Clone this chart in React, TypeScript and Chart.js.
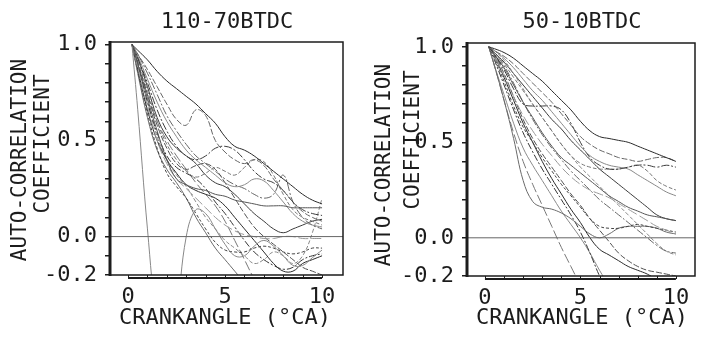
import React, { useEffect, useRef } from "react";
import { Chart, registerables } from "chart.js";

Chart.register(...registerables);

// ---------- data ----------
const LAGS = [0.2, 0.5, 1, 1.5, 2, 2.5, 3, 3.5, 4, 4.5, 5, 5.5, 6, 6.5, 7, 7.5, 8, 8.5, 9, 9.5, 10];

const Y_TICKS = [-0.2, -0.1, 0, 0.1, 0.2, 0.3, 0.4, 0.5, 0.6, 0.7, 0.8, 0.9, 1.0];
const Y_LABELED = [-0.2, 0, 0.5, 1.0];
const Y_LABEL_TEXT = ["-0.2", "0.0", "0.5", "1.0"];
const X_TICKS = [0, 5, 10];
const X_MINOR = [0, 1, 2, 3, 4, 5, 6, 7, 8, 9, 10];

const LEFT_TITLE = "110-70BTDC";
const RIGHT_TITLE = "50-10BTDC";
const X_TITLE = "CRANKANGLE (°CA)";
const Y_TITLE_1 = "AUTO-CORRELATION";
const Y_TITLE_2 = "COEFFICIENT";

// left panel (110-70 BTDC)
const L01 = [1.00, 0.97, 0.92, 0.86, 0.81, 0.77, 0.73, 0.69, 0.64, 0.59, 0.52, 0.47, 0.45, 0.42, 0.38, 0.34, 0.30, 0.26, 0.22, 0.19, 0.17];
const L02 = [1.00, 0.95, 0.87, 0.78, 0.69, 0.61, 0.58, 0.66, 0.63, 0.50, 0.44, 0.40, 0.38, 0.40, 0.37, 0.30, 0.24, 0.18, 0.13, 0.10, 0.08];
const L03 = [1.00, 0.66, 0.04, -0.45, -0.65, -0.40, 0.00, 0.14, 0.12, 0.04, -0.04, -0.10, -0.10, -0.05, -0.02, -0.05, -0.10, -0.15, -0.15, -0.11, -0.07];
const L04 = [1.00, 0.93, 0.80, 0.66, 0.55, 0.47, 0.42, 0.40, 0.42, 0.46, 0.47, 0.45, 0.40, 0.34, 0.30, 0.28, 0.24, 0.18, 0.14, 0.12, 0.11];
const L05 = [1.00, 0.92, 0.76, 0.60, 0.48, 0.40, 0.34, 0.31, 0.33, 0.36, 0.34, 0.32, 0.36, 0.40, 0.39, 0.32, 0.22, 0.14, 0.10, 0.08, 0.06];
const L06 = [1.00, 0.90, 0.72, 0.55, 0.40, 0.30, 0.27, 0.25, 0.24, 0.22, 0.21, 0.19, 0.18, 0.17, 0.16, 0.16, 0.16, 0.15, 0.15, 0.15, 0.15];
const L07 = [1.00, 0.88, 0.68, 0.50, 0.38, 0.30, 0.25, 0.20, 0.15, 0.10, 0.06, 0.03, 0.01, 0.00, -0.01, -0.01, 0.00, 0.00, -0.01, -0.01, -0.01];
const L08 = [1.00, 0.86, 0.64, 0.46, 0.33, 0.26, 0.20, 0.12, 0.04, -0.03, -0.07, -0.08, -0.08, -0.06, -0.05, -0.06, -0.08, -0.09, -0.08, -0.06, -0.06];
const L09 = [1.00, 0.85, 0.62, 0.45, 0.35, 0.28, 0.20, 0.10, 0.02, -0.06, -0.12, -0.18, -0.24, -0.30, -0.35, -0.38, -0.40, -0.40, -0.40, -0.40, -0.40];
const L10 = [1.00, 0.90, 0.70, 0.54, 0.42, 0.36, 0.33, 0.30, 0.25, 0.18, 0.12, 0.05, -0.02, -0.08, -0.12, -0.15, -0.17, -0.16, -0.12, -0.10, -0.09];
const L11 = [1.00, 0.94, 0.82, 0.70, 0.60, 0.52, 0.45, 0.40, 0.36, 0.32, 0.28, 0.26, 0.27, 0.30, 0.29, 0.24, 0.18, 0.12, 0.08, 0.06, 0.05];
const L12 = [1.00, 0.91, 0.74, 0.58, 0.46, 0.38, 0.35, 0.37, 0.38, 0.35, 0.28, 0.20, 0.12, 0.05, 0.00, -0.04, -0.08, -0.12, -0.16, -0.18, -0.20];
const L13 = [1.00, 0.87, 0.66, 0.50, 0.40, 0.33, 0.27, 0.24, 0.22, 0.20, 0.16, 0.10, 0.04, -0.02, -0.08, -0.14, -0.18, -0.18, -0.14, -0.12, -0.10];
const L14 = [1.00, 0.95, 0.85, 0.74, 0.63, 0.55, 0.48, 0.42, 0.38, 0.34, 0.30, 0.27, 0.25, 0.22, 0.20, 0.22, 0.32, 0.18, 0.10, 0.06, 0.04];
const L15 = [1.00, 0.89, 0.70, 0.52, 0.40, 0.32, 0.26, 0.18, 0.10, 0.04, -0.02, -0.06, -0.10, -0.14, -0.12, -0.08, -0.10, -0.14, -0.10, 0.02, 0.20];
const L16 = [1.00, 0.93, 0.78, 0.62, 0.52, 0.46, 0.42, 0.38, 0.32, 0.28, 0.26, 0.22, 0.17, 0.12, 0.08, 0.04, 0.02, 0.04, 0.06, 0.08, 0.09];
const L17 = [1.00, 0.90, 0.74, 0.60, 0.50, 0.42, 0.35, 0.28, 0.22, 0.16, 0.08, -0.02, -0.12, -0.22, -0.30, -0.36, -0.40, -0.40, -0.40, -0.40, -0.40];

// right panel (50-10 BTDC)
const R01 = [1.00, 0.99, 0.97, 0.94, 0.90, 0.86, 0.82, 0.77, 0.72, 0.67, 0.61, 0.56, 0.53, 0.52, 0.51, 0.50, 0.48, 0.46, 0.44, 0.42, 0.40];
const R02 = [1.00, 0.98, 0.95, 0.91, 0.86, 0.81, 0.76, 0.71, 0.65, 0.59, 0.53, 0.49, 0.46, 0.44, 0.42, 0.41, 0.40, 0.41, 0.42, 0.42, 0.40];
const R03 = [1.00, 0.98, 0.94, 0.89, 0.83, 0.77, 0.72, 0.66, 0.60, 0.54, 0.48, 0.43, 0.40, 0.38, 0.37, 0.36, 0.33, 0.30, 0.27, 0.24, 0.22];
const R04 = [1.00, 0.96, 0.88, 0.78, 0.70, 0.69, 0.69, 0.69, 0.67, 0.60, 0.50, 0.42, 0.38, 0.36, 0.36, 0.37, 0.38, 0.38, 0.37, 0.38, 0.37];
const R05 = [1.00, 0.97, 0.91, 0.84, 0.77, 0.70, 0.63, 0.56, 0.49, 0.43, 0.39, 0.37, 0.36, 0.36, 0.36, 0.37, 0.38, 0.35, 0.30, 0.27, 0.25];
const R06 = [1.00, 0.96, 0.89, 0.80, 0.71, 0.63, 0.55, 0.48, 0.42, 0.38, 0.34, 0.30, 0.26, 0.22, 0.19, 0.16, 0.14, 0.12, 0.11, 0.10, 0.09];
const R07 = [1.00, 0.95, 0.85, 0.74, 0.64, 0.56, 0.49, 0.43, 0.37, 0.32, 0.28, 0.25, 0.23, 0.21, 0.18, 0.15, 0.12, 0.09, 0.06, 0.04, 0.02];
const R08 = [1.00, 0.94, 0.82, 0.69, 0.58, 0.50, 0.42, 0.35, 0.28, 0.22, 0.16, 0.10, 0.06, 0.05, 0.05, 0.06, 0.07, 0.06, 0.05, 0.04, 0.03];
const R09 = [1.00, 0.90, 0.72, 0.52, 0.30, 0.19, 0.16, 0.15, 0.13, 0.10, 0.06, 0.02, 0.00, 0.02, 0.05, 0.06, 0.06, 0.06, 0.05, 0.03, 0.02];
const R10 = [1.00, 0.93, 0.80, 0.67, 0.55, 0.45, 0.36, 0.28, 0.20, 0.12, 0.03, -0.08, -0.20, -0.30, -0.40, -0.45, -0.45, -0.45, -0.45, -0.45, -0.45];
const R11 = [1.00, 0.90, 0.75, 0.60, 0.47, 0.38, 0.30, 0.22, 0.14, 0.07, 0.00, -0.08, -0.17, -0.25, -0.32, -0.38, -0.40, -0.40, -0.40, -0.40, -0.40];
const R12 = [1.00, 0.96, 0.86, 0.74, 0.62, 0.52, 0.44, 0.37, 0.30, 0.23, 0.17, 0.10, 0.04, -0.02, -0.08, -0.12, -0.15, -0.17, -0.18, -0.19, -0.20];
const R13 = [1.00, 0.95, 0.84, 0.72, 0.60, 0.50, 0.40, 0.31, 0.23, 0.15, 0.08, 0.00, -0.06, -0.09, -0.12, -0.15, -0.17, -0.19, -0.22, -0.25, -0.28];
const R14 = [1.00, 0.97, 0.90, 0.81, 0.71, 0.62, 0.54, 0.47, 0.41, 0.35, 0.30, 0.25, 0.20, 0.16, 0.12, 0.08, 0.04, 0.00, -0.04, -0.07, -0.08];
const R15 = [1.00, 0.98, 0.93, 0.86, 0.78, 0.70, 0.63, 0.56, 0.49, 0.43, 0.37, 0.32, 0.27, 0.22, 0.17, 0.12, 0.07, 0.02, -0.03, -0.07, -0.09];
const R16 = [1.00, 0.97, 0.92, 0.86, 0.80, 0.74, 0.68, 0.62, 0.57, 0.51, 0.46, 0.41, 0.36, 0.32, 0.28, 0.24, 0.20, 0.16, 0.12, 0.10, 0.09];
const R17 = [1.00, 0.90, 0.72, 0.55, 0.40, 0.28, 0.17, 0.06, -0.05, -0.15, -0.25, -0.35, -0.40, -0.40, -0.40, -0.40, -0.40, -0.40, -0.40, -0.40, -0.40];

const LEFT_CURVES = [L01, L02, L03, L04, L05, L06, L07, L08, L09, L10, L11, L12, L13, L14, L15, L16, L17];
const RIGHT_CURVES = [R01, R02, R03, R04, R05, R06, R07, R08, R09, R10, R11, R12, R13, R14, R15, R16, R17];

// ---------- styles ----------
const FONT = "'DejaVu Sans Mono', monospace";
const INK = "#1c1c1c";
const LINE_COLORS = ["#2a2a2a", "#666", "#888", "#3a3a3a", "#777", "#555", "#999", "#444", "#6a6a6a", "#333", "#8a8a8a", "#505050"];
const LINE_DASHES: number[][] = [[], [6, 2], [], [8, 2, 2, 2], [4, 2], [], [10, 3], [3, 2], [], [7, 2, 2, 2]];

type Panel = {
  canvasX: number; width: number; height: number;
  area: { left: number; right: number; top: number; bottom: number };
  xMin: number; xMax: number; yMin: number; yMax: number;
  title: string; titlePos: [number, number];
  yTitle1Pos: [number, number]; yTitle2Pos: [number, number];
  xTitlePos: [number, number];
  curves: number[][];
};

const PANELS: Panel[] = [
  {
    canvasX: 0, width: 352, height: 340,
    area: { left: 110, right: 343, top: 42, bottom: 275 },
    xMin: -0.93, xMax: 11.08, yMin: -0.2, yMax: 1.013,
    title: LEFT_TITLE, titlePos: [227, 22],
    yTitle1Pos: [21, 160], yTitle2Pos: [44, 144],
    xTitlePos: [225, 318],
    curves: LEFT_CURVES,
  },
  {
    canvasX: 352, width: 353, height: 340,
    area: { left: 115, right: 343, top: 43, bottom: 276 },
    xMin: -0.94, xMax: 11.0, yMin: -0.2, yMax: 1.02,
    title: RIGHT_TITLE, titlePos: [230, 22],
    yTitle1Pos: [33, 165], yTitle2Pos: [62, 140],
    xTitlePos: [230, 318],
    curves: RIGHT_CURVES,
  },
];

function yLabel(v: number): string {
  for (let i = 0; i < Y_LABELED.length; i++) {
    if (Math.abs(v - Y_LABELED[i]) < 1e-6) return Y_LABEL_TEXT[i];
  }
  return "";
}

function PanelChart({ p }: { p: Panel }) {
  const ref = useRef<HTMLCanvasElement | null>(null);
  useEffect(() => {
    const canvas = ref.current;
    if (!canvas) return;

    const decor = {
      id: "decor",
      afterDraw(chart: any) {
        const ctx = chart.ctx;
        const a = chart.chartArea;
        const xs = chart.scales.x;
        ctx.save();
        // frame
        ctx.strokeStyle = INK;
        ctx.lineWidth = 1.5;
        ctx.beginPath();
        ctx.moveTo(a.left, a.top);
        ctx.lineTo(a.right, a.top);
        ctx.lineTo(a.right, a.bottom);
        ctx.lineTo(a.left, a.bottom);
        ctx.stroke();
        ctx.lineWidth = 3;
        ctx.beginPath();
        ctx.moveTo(a.left, a.top - 1);
        ctx.lineTo(a.left, a.bottom + 1);
        ctx.stroke();
        // x axis bar with minor ticks
        const by = a.bottom + 3;
        ctx.lineWidth = 2;
        ctx.beginPath();
        ctx.moveTo(xs.getPixelForValue(X_MINOR[0]), by);
        ctx.lineTo(xs.getPixelForValue(X_MINOR[X_MINOR.length - 1]), by);
        ctx.stroke();
        ctx.lineWidth = 1;
        ctx.beginPath();
        X_MINOR.forEach((v) => {
          const px = Math.round(xs.getPixelForValue(v)) + 0.5;
          ctx.moveTo(px, by);
          ctx.lineTo(px, by - 3);
        });
        ctx.stroke();
        // texts
        ctx.fillStyle = INK;
        ctx.textAlign = "center";
        ctx.textBaseline = "middle";
        ctx.font = `22px ${FONT}`;
        ctx.fillText(p.title, p.titlePos[0], p.titlePos[1]);
        ctx.fillText(X_TITLE, p.xTitlePos[0], p.xTitlePos[1]);
        ctx.font = `21px ${FONT}`;
        ctx.save();
        ctx.translate(p.yTitle1Pos[0], p.yTitle1Pos[1]);
        ctx.rotate(-Math.PI / 2);
        ctx.fillText(Y_TITLE_1, 0, 0);
        ctx.restore();
        ctx.save();
        ctx.translate(p.yTitle2Pos[0], p.yTitle2Pos[1]);
        ctx.rotate(-Math.PI / 2);
        ctx.fillText(Y_TITLE_2, 0, 0);
        ctx.restore();
        ctx.restore();
      },
    };

    const datasets: any[] = [
      {
        data: [{ x: p.xMin, y: 0 }, { x: p.xMax, y: 0 }],
        borderColor: "#666",
        borderWidth: 1,
        pointRadius: 0,
        tension: 0,
      },
    ];
    p.curves.forEach((vals, i) => {
      datasets.push({
        data: LAGS.map((x, j) => ({ x, y: vals[j] })),
        borderColor: LINE_COLORS[i % LINE_COLORS.length],
        borderDash: LINE_DASHES[i % LINE_DASHES.length],
        borderWidth: 1,
        pointRadius: 0,
        tension: 0.4,
      });
    });

    const chart = new Chart(canvas, {
      type: "line",
      data: { datasets },
      plugins: [decor],
      options: {
        animation: false,
        responsive: false,
        devicePixelRatio: 1,
        events: [],
        layout: {
          padding: { left: 0, top: p.area.top, right: p.width - p.area.right, bottom: 0 },
        },
        plugins: { legend: { display: false }, tooltip: { enabled: false }, title: { display: false } },
        scales: {
          x: {
            type: "linear",
            min: p.xMin,
            max: p.xMax,
            grid: { display: false, drawTicks: false },
            border: { display: false },
            afterBuildTicks: (s: any) => {
              s.ticks = X_TICKS.map((v) => ({ value: v }));
            },
            afterFit: (s: any) => {
              s.height = p.height - p.area.bottom;
            },
            ticks: {
              autoSkip: false,
              maxRotation: 0,
              padding: 9,
              color: INK,
              font: { family: FONT, size: 22 },
              callback: (v: any) => String(v),
            },
          },
          y: {
            type: "linear",
            min: p.yMin,
            max: p.yMax,
            grid: { display: true, drawOnChartArea: false, drawTicks: true, tickLength: 5, color: INK, lineWidth: 1.5 },
            border: { display: false },
            afterBuildTicks: (s: any) => {
              s.ticks = Y_TICKS.map((v) => ({ value: v }));
            },
            afterFit: (s: any) => {
              s.width = p.area.left;
            },
            ticks: {
              autoSkip: false,
              padding: 8,
              color: INK,
              font: { family: FONT, size: 22 },
              callback: (v: any) => yLabel(Number(v)),
            },
          },
        },
      } as any,
    });
    return () => chart.destroy();
  }, [p]);

  return (
    <canvas
      ref={ref}
      width={p.width}
      height={p.height}
      style={{ position: "absolute", left: p.canvasX, top: 0, width: p.width, height: p.height }}
    />
  );
}

export default function App() {
  return (
    <div style={{ position: "fixed", left: 0, top: 0, width: 705, height: 340, background: "#fff", overflow: "hidden" }}>
      {PANELS.map((p, i) => (
        <PanelChart key={i} p={p} />
      ))}
    </div>
  );
}
